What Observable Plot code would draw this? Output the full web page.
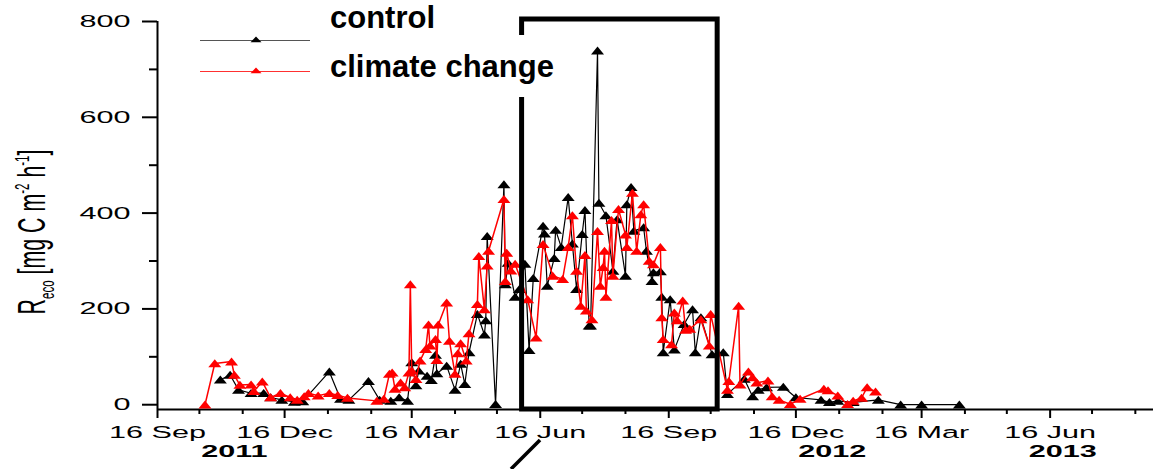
<!DOCTYPE html>
<html>
<head>
<meta charset="utf-8">
<script src="https://cdn.jsdelivr.net/npm/d3@7"></script>
<script src="https://cdn.jsdelivr.net/npm/@observablehq/plot@0.6"></script>
<style>
  html, body { margin: 0; padding: 0; background: #fff; }
  #chart { position: relative; width: 1153px; height: 469px; overflow: hidden; }
</style>
</head>
<body>
<div id="chart"></div>
<script>
// ---------- data ----------
const seriesNames = ["control", "climate change"];

const control = [
  ["2011-10-31",52],["2011-11-07",62],["2011-11-13",31],["2011-11-22",24],["2011-12-01",24],
  ["2011-12-06",15],["2011-12-14",10],["2011-12-23",6],["2011-12-29",7],["2012-01-17",69],
  ["2012-01-25",12],["2012-01-31",10],["2012-02-14",49],["2012-02-22",10],["2012-03-01",8],
  ["2012-03-07",15],["2012-03-13",8],["2012-03-16",88],["2012-03-19",40],["2012-03-21",71],
  ["2012-03-27",60],["2012-03-30",51],["2012-04-02",104],["2012-04-03",65],["2012-04-10",81],
  ["2012-04-16",31],["2012-04-20",85],["2012-04-23",43],["2012-04-26",109],["2012-05-02",189],
  ["2012-05-07",146],["2012-05-08",176],["2012-05-09",352],["2012-05-15",1],["2012-05-21",460],
  ["2012-05-22",251],["2012-05-24",296],["2012-05-29",225],["2012-06-01",241],["2012-06-05",294],
  ["2012-06-08",114],["2012-06-11",264],["2012-06-18",373],["2012-06-19",357],["2012-06-21",248],
  ["2012-06-26",306],["2012-06-27",365],["2012-07-01",329],["2012-07-06",433],["2012-07-09",336],
  ["2012-07-12",241],["2012-07-16",356],["2012-07-18",406],["2012-07-21",165],["2012-07-22",165],
  ["2012-07-27",739],["2012-07-28",421],["2012-08-02",395],["2012-08-07",279],["2012-08-10",387],
  ["2012-08-16",269],["2012-08-17",418],["2012-08-20",454],["2012-08-22",363],["2012-08-29",370],
  ["2012-08-31",321],["2012-09-04",258],["2012-09-05",276],["2012-09-10",278],["2012-09-11",225],
  ["2012-09-12",109],["2012-09-17",220],["2012-09-20",115],["2012-09-27",168],["2012-10-03",199],
  ["2012-10-05",109],["2012-10-09",182],["2012-10-17",105],["2012-10-25",109],["2012-10-28",22],
  ["2012-11-09",54],["2012-11-15",17],["2012-11-19",31],["2012-11-25",36],["2012-12-07",37],
  ["2012-12-16",15],["2013-01-03",10],["2013-01-09",5],["2013-01-15",8],["2013-01-26",5],
  ["2013-02-13",10],["2013-03-01",0],["2013-03-16",0],["2013-04-12",0]
];

const climateChange = [
  ["2011-10-20",0],["2011-10-27",86],["2011-11-08",90],["2011-11-10",62],["2011-11-14",41],
  ["2011-11-22",42],["2011-11-24",28],["2011-11-30",48],["2011-12-06",15],["2011-12-13",24],
  ["2011-12-20",15],["2011-12-25",10],["2011-12-30",17],["2012-01-02",24],["2012-01-09",19],
  ["2012-01-17",24],["2012-01-23",20],["2012-01-30",14],["2012-02-20",8],["2012-02-25",12],
  ["2012-02-29",64],["2012-03-02",67],["2012-03-04",33],["2012-03-08",46],["2012-03-11",36],
  ["2012-03-14",67],["2012-03-15",251],["2012-03-16",71],["2012-03-19",53],["2012-03-22",92],
  ["2012-03-26",116],["2012-03-28",167],["2012-03-29",123],["2012-04-02",137],["2012-04-03",93],
  ["2012-04-04",167],["2012-04-10",213],["2012-04-12",133],["2012-04-16",64],["2012-04-18",107],
  ["2012-04-20",128],["2012-04-24",92],["2012-04-26",149],["2012-05-02",210],["2012-05-03",310],
  ["2012-05-07",199],["2012-05-09",290],["2012-05-10",321],["2012-05-21",429],["2012-05-22",258],
  ["2012-05-23",317],["2012-05-26",280],["2012-05-29",294],["2012-06-07",220],["2012-06-13",140],
  ["2012-06-18",335],["2012-06-25",269],["2012-07-02",262],["2012-07-06",329],["2012-07-09",395],
  ["2012-07-12",279],["2012-07-15",206],["2012-07-18",312],["2012-07-19",196],["2012-07-23",178],
  ["2012-07-27",362],["2012-07-29",248],["2012-07-31",287],["2012-08-01",321],["2012-08-02",225],
  ["2012-08-06",385],["2012-08-07",269],["2012-08-11",408],["2012-08-16",355],["2012-08-17",329],
  ["2012-08-21",442],["2012-08-24",321],["2012-08-27",397],["2012-08-29",418],["2012-09-02",300],
  ["2012-09-05",293],["2012-09-10",329],["2012-09-11",182],["2012-09-12",137],["2012-09-18",126],
  ["2012-09-20",192],["2012-09-22",176],["2012-09-26",217],["2012-09-28",156],["2012-10-01",158],
  ["2012-10-09",178],["2012-10-15",123],["2012-10-16",189],["2012-10-28",31],["2012-10-29",49],
  ["2012-11-05",206],["2012-11-06",42],["2012-11-12",69],["2012-11-15",57],["2012-11-18",46],
  ["2012-11-26",50],["2012-11-29",17],["2012-12-04",10],["2012-12-12",1],["2012-12-19",12],
  ["2013-01-05",33],["2013-01-08",30],["2013-01-15",19],["2013-01-22",1],["2013-01-26",8],
  ["2013-02-01",14],["2013-02-05",36],["2013-02-11",27]
];

const xDomain = ["2011-09-16", "2013-08-29"];
const xMajorTicks = ["2011-09-16","2011-12-16","2012-03-16","2012-06-16","2012-09-16","2012-12-16","2013-03-16","2013-06-16"];
const yDomain = [-10, 800];
const yMajorTicks = [0, 200, 400, 600, 800];
const yMinorTicks = [100, 300, 500, 700];
const yearLabels = [["2011-11-10","2011"],["2013-01-11","2012"],["2013-06-25","2013"]];
const highlightPeriod = [["2012-06-03","2012-10-21"]];

// ---------- build ----------
const parse = d3.utcParse("%Y-%m-%d");
const rows = arr => arr.map(([d, v]) => ({date: parse(d), value: v}));
const ctrl = rows(control);
const cc = rows(climateChange);
const xStart = parse(xDomain[0]), xEnd = parse(xDomain[1]);
const majors = xMajorTicks.map(parse);
const majorSet = new Set(majors.map(Number));
const minors = d3.utcMonth.range(d3.utcMonth.floor(xStart), xEnd)
  .map(m => d3.utcDay.offset(m, 15))
  .filter(d => !majorSet.has(+d) && d >= xStart && d <= xEnd);
const years = yearLabels.map(([d, t]) => ({date: parse(d), label: t}));
const periods = highlightPeriod.map(([a, b]) => ({start: parse(a), end: parse(b)}));

const tri = { draw(ctx) { ctx.moveTo(0, -4.2); ctx.lineTo(6.5, 3.8); ctx.lineTo(-6.5, 3.8); ctx.closePath(); } };
const fmt = d3.utcFormat("%-d %b");

const chart = Plot.plot({
  width: 1153,
  height: 469,
  marginLeft: 157,
  marginRight: 0,
  marginTop: 21,
  marginBottom: 60,
  x: {type: "utc", domain: [xStart, xEnd], label: null},
  y: {domain: yDomain, label: null},
  style: {fontFamily: "'Liberation Sans', Arial, sans-serif", fontSize: "17px", color: "#000", background: "#fff", overflow: "visible"},
  marks: [
    Plot.axisY(yMajorTicks, {tickSize: 15, tickPadding: 12, strokeWidth: 2, fontSize: 17, tickFormat: d => String(d)}),
    Plot.axisY(yMinorTicks, {tickSize: 8, strokeWidth: 2, tickFormat: () => ""}),
    Plot.axisX(majors, {tickSize: 9, tickPadding: 7, strokeWidth: 2, fontSize: 17, tickFormat: fmt}),
    Plot.axisX(minors, {tickSize: 5, strokeWidth: 2, tickFormat: () => ""}),
    Plot.ruleX([xStart], {stroke: "#000", strokeWidth: 2}),
    Plot.ruleY([yDomain[0]], {stroke: "#000", strokeWidth: 2}),
    Plot.text(years, {x: "date", text: "label", frameAnchor: "bottom", lineAnchor: "middle", dy: 42, fontWeight: "bold", fontSize: 17, fill: "#000"}),
    Plot.line(ctrl, {x: "date", y: "value", stroke: "#000", strokeWidth: 1.2}),
    Plot.dot(ctrl, {x: "date", y: "value", symbol: tri, fill: "#000"}),
    Plot.line(cc, {x: "date", y: "value", stroke: "#ff0000", strokeWidth: 1.5}),
    Plot.dot(cc, {x: "date", y: "value", symbol: tri, fill: "#ff0000"}),
    Plot.rect(periods, {x1: "start", x2: "end", fill: "none", stroke: "#000", strokeWidth: 5, insetTop: -2})
  ]
});

document.getElementById("chart").appendChild(chart);

// ---------- post-processing: stretched axis lettering like the original ----------
const svg = d3.select(chart);
function stretch(el, sx) {
  const t = el.getAttribute("transform");
  if (t) el.setAttribute("transform", t + ` scale(${sx},1)`);
  else {
    const x = +el.getAttribute("x") || 0;
    el.setAttribute("x", x / sx);
    el.setAttribute("transform", `scale(${sx},1)`);
  }
}
svg.selectAll("g[aria-label$='tick label'] text").each(function() { stretch(this, 1.8); });
svg.selectAll("g[aria-label='text'] text").each(function() { stretch(this, 1.8); });

// gap in the highlight box's left edge (behind legend text)
svg.append("rect").attr("x", 516).attr("y", 35).attr("width", 12).attr("height", 62).attr("fill", "#fff");

// callout pointer below the axis
svg.append("line").attr("x1", 540).attr("y1", 440).attr("x2", 511).attr("y2", 469)
  .attr("stroke", "#000").attr("stroke-width", 3.5);

// y-axis title
const yl = svg.append("text")
  .attr("text-anchor", "middle")
  .attr("font-family", "'Liberation Sans', Arial, sans-serif")
  .attr("font-size", 39)
  .attr("fill", "#000");
yl.append("tspan").text("R");
yl.append("tspan").attr("font-size", 21).attr("dy", 9).text("eco");
yl.append("tspan").attr("dy", -9).text(" [mg C m");
yl.append("tspan").attr("font-size", 21).attr("dy", -16).text("-2");
yl.append("tspan").attr("dy", 16).text(" h");
yl.append("tspan").attr("font-size", 21).attr("dy", -16).text("-1");
yl.append("tspan").attr("dy", 16).text("]");
const w = yl.node().getBBox().width || 300;
yl.attr("transform", `translate(45,232) rotate(-90) scale(${165 / w},1)`);

// legend
const lg = svg.append("g").attr("font-family", "'Liberation Sans', Arial, sans-serif").attr("text-anchor", "start");
const legendColors = ["#000", "#ff0000"];
const legendLineY = [40.5, 71.5];
const legendTextY = [28, 77];
seriesNames.forEach((name, i) => {
  const yy = legendLineY[i];
  lg.append("line").attr("x1", 200).attr("x2", 310).attr("y1", yy).attr("y2", yy)
    .attr("stroke", i ? "#ff3030" : "#555").attr("stroke-width", 1.2);
  lg.append("path").attr("d", `M256,${yy - 4}L261.5,${yy + 1.8}L250.5,${yy + 1.8}Z`).attr("fill", legendColors[i]);
  lg.append("text").attr("x", 330).attr("y", legendTextY[i]).attr("text-anchor", "start")
    .attr("font-size", 31).attr("font-weight", "bold").attr("fill", "#000").text(name);
});
</script>
</body>
</html>
